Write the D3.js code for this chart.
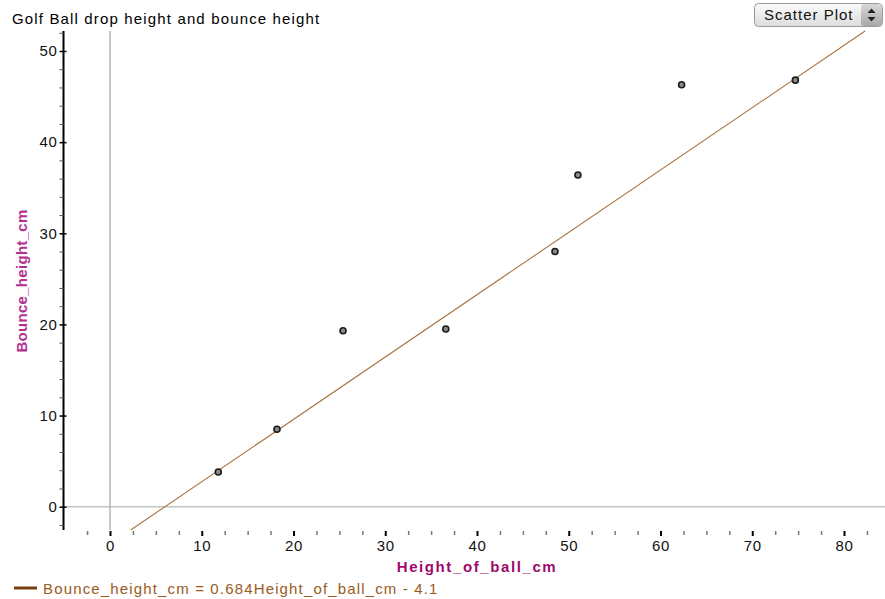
<!DOCTYPE html>
<html>
<head>
<meta charset="utf-8">
<script src="https://cdn.jsdelivr.net/npm/d3@7"></script>
<style>
  body { margin: 0; background: #fff; }
  svg { display: block; font-family: "Liberation Sans", Arial, sans-serif; }
</style>
</head>
<body>
<svg id="chart" width="885" height="599"></svg>
<script>
// ---- Data ----
const dropHeights   = [11.8, 18.2, 25.4, 36.6, 48.5, 51.0, 62.3, 74.7];
const bounceHeights = [3.8, 8.5, 19.3, 19.5, 28.0, 36.4, 46.3, 46.8];
const fitSlope = 0.684;
const fitIntercept = -4.1;
const xTickLabels = [0, 10, 20, 30, 40, 50, 60, 70, 80];
const yTickLabels = [0, 10, 20, 30, 40, 50];
const titleText = "Golf Ball drop height and bounce height";
const xTitle = "Height_of_ball_cm";
const yTitle = "Bounce_height_cm";
const legendText = "Bounce_height_cm = 0.684Height_of_ball_cm - 4.1";

const svg = d3.select("#chart");

// ---- Scales ----
const x = d3.scaleLinear().domain([0, 80]).range([110, 844]);
const y = d3.scaleLinear().domain([0, 50]).range([506.7, 51]);

const plotLeft = 63.5, plotRight = 885;
const yTopVal = y.invert(31), yBotVal = y.invert(530);

// ---- Zero lines ----
svg.append("line")
  .attr("x1", plotLeft).attr("x2", plotRight)
  .attr("y1", y(0)).attr("y2", y(0))
  .attr("stroke", "#c4c4c4").attr("stroke-width", 1.5);
svg.append("line")
  .attr("x1", x(0)).attr("x2", x(0))
  .attr("y1", 31).attr("y2", 530)
  .attr("stroke", "#b4b4b4").attr("stroke-width", 1.5);

// ---- Y axis ----
const yMinor = d3.range(-2, 53, 2).filter(v => v % 10 !== 0);
const yAxisG = svg.append("g").attr("transform", `translate(${plotLeft},0)`);
yAxisG.append("line").attr("x1", 0).attr("x2", 0).attr("y1", 31).attr("y2", 530)
  .attr("stroke", "#000").attr("stroke-width", 2);
yAxisG.call(g => {
  const ax = d3.axisLeft(y).tickValues(yTickLabels).tickSize(5).tickFormat(d3.format("d"));
  g.append("g").call(ax).call(s => {
    s.select(".domain").remove();
    s.selectAll(".tick line").attr("x2", 3).attr("x1", -4).attr("stroke", "#000").attr("stroke-width", 1.5);
    s.selectAll(".tick text").attr("x", -6).attr("font-size", 15).attr("fill", "#111")
      .attr("letter-spacing", "0.6px")
      .attr("font-family", "'Liberation Sans', Arial, sans-serif");
  });
  const axm = d3.axisLeft(y).tickValues(yMinor).tickSize(4).tickFormat("");
  g.append("g").call(axm).call(s => {
    s.select(".domain").remove();
    s.selectAll(".tick line").attr("stroke", "#555").attr("stroke-width", 1);
  });
});

// ---- X axis (tick row, no domain line) ----
const xMinor = d3.range(-2.5, 83, 2.5).filter(v => v % 10 !== 0);
const xAxisG = svg.append("g").attr("transform", "translate(0,531)");
xAxisG.append("g").call(d3.axisBottom(x).tickValues(xTickLabels).tickSize(5).tickFormat(d3.format("d")))
  .call(s => {
    s.select(".domain").remove();
    s.selectAll(".tick line").attr("stroke", "#000").attr("stroke-width", 2);
    s.selectAll(".tick text").attr("y", 9).attr("font-size", 15).attr("fill", "#111")
      .attr("letter-spacing", "0.6px")
      .attr("font-family", "'Liberation Sans', Arial, sans-serif");
  });
xAxisG.append("g").call(d3.axisBottom(x).tickValues(xMinor).tickSize(4).tickFormat(""))
  .call(s => {
    s.select(".domain").remove();
    s.selectAll(".tick line").attr("stroke", "#777").attr("stroke-width", 1.5);
  });

// ---- Regression line ----
const xStart = (yBotVal - fitIntercept) / fitSlope;
const xEnd = (yTopVal - fitIntercept) / fitSlope;
svg.append("line")
  .attr("x1", x(xStart)).attr("y1", y(fitSlope * xStart + fitIntercept))
  .attr("x2", x(xEnd)).attr("y2", y(fitSlope * xEnd + fitIntercept))
  .attr("stroke", "#a8753f").attr("stroke-width", 1.1);

// ---- Points ----
const pts = dropHeights.map((d, i) => ({ x: d, y: bounceHeights[i] }));
svg.append("g").selectAll("circle").data(pts).join("circle")
  .attr("cx", d => x(d.x)).attr("cy", d => y(d.y)).attr("r", 3)
  .attr("fill", "#8a8a8a").attr("stroke", "#1a1a1a").attr("stroke-width", 1.6);

// ---- Title ----
svg.append("text").attr("x", 12).attr("y", 24).attr("font-size", 15).attr("fill", "#000")
  .attr("letter-spacing", "1.15px")
  .text(titleText);

// ---- Axis titles ----
svg.append("text").attr("x", 477).attr("y", 572).attr("text-anchor", "middle")
  .attr("font-size", 15).attr("font-weight", "bold").attr("fill", "#9c0a6e")
  .attr("letter-spacing", "1.6px")
  .text(xTitle);
svg.append("text").attr("transform", "translate(27,281) rotate(-90)").attr("text-anchor", "middle")
  .attr("font-size", 15).attr("font-weight", "bold").attr("fill", "#b3308f")
  .attr("letter-spacing", "0.3px")
  .text(yTitle);

// ---- Legend ----
svg.append("line").attr("x1", 14).attr("x2", 37).attr("y1", 588).attr("y2", 588)
  .attr("stroke", "#7a3f10").attr("stroke-width", 3);
svg.append("text").attr("x", 43).attr("y", 594).attr("font-size", 15).attr("fill", "#9a5b22")
  .attr("letter-spacing", "1.15px")
  .text(legendText);

// ---- Dropdown control ----
const defs = svg.append("defs");
const grad = defs.append("linearGradient").attr("id", "btn").attr("x1", 0).attr("x2", 0).attr("y1", 0).attr("y2", 1);
grad.append("stop").attr("offset", "0%").attr("stop-color", "#fbfbfb");
grad.append("stop").attr("offset", "100%").attr("stop-color", "#dcdcdc");
const grad2 = defs.append("linearGradient").attr("id", "btn2").attr("x1", 0).attr("x2", 0).attr("y1", 0).attr("y2", 1);
grad2.append("stop").attr("offset", "0%").attr("stop-color", "#d8d8d8");
grad2.append("stop").attr("offset", "100%").attr("stop-color", "#a8a8a8");
const btn = svg.append("g");
btn.append("rect").attr("x", 754.5).attr("y", 3.5).attr("width", 128).attr("height", 23).attr("rx", 4)
  .attr("fill", "url(#btn)").attr("stroke", "#9a9a9a");
btn.append("rect").attr("x", 861).attr("y", 4).attr("width", 21).attr("height", 22).attr("rx", 3)
  .attr("fill", "url(#btn2)");
btn.append("path").attr("d", "M867.5,13 L871.5,8.5 L875.5,13 Z").attr("fill", "#222");
btn.append("path").attr("d", "M867.5,17 L871.5,21.5 L875.5,17 Z").attr("fill", "#222");
btn.append("text").attr("x", 764).attr("y", 20).attr("font-size", 15).attr("fill", "#111")
  .attr("letter-spacing", "1px")
  .text("Scatter Plot");
</script>
</body>
</html>
